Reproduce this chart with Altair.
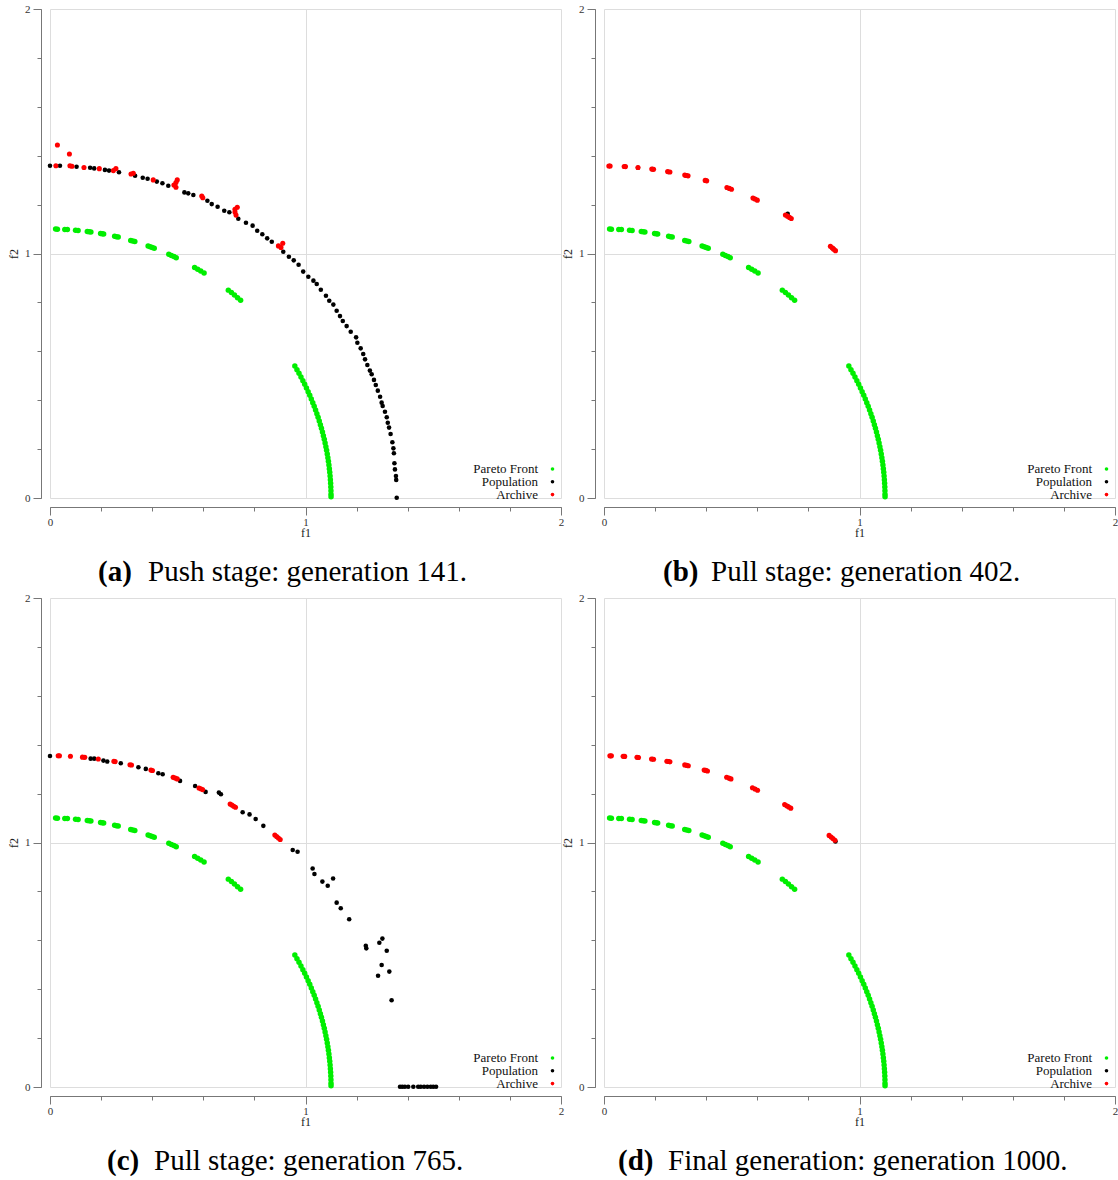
import altair as alt
import pandas as pd

SERIF = "Liberation Serif"
GREEN = "#00ee00"
RED = "#ff0000"
BLACK = "#000000"

# ---- true Pareto front (same in every panel) ----
front_x = [0.022, 0.029, 0.058, 0.068, 0.100, 0.110, 0.146, 0.153, 0.160,
           0.198, 0.204, 0.210, 0.253, 0.260, 0.267, 0.316, 0.324, 0.332,
           0.384, 0.392, 0.400, 0.408, 0.465, 0.475, 0.485, 0.494,
           0.566, 0.578, 0.590, 0.603, 0.698, 0.710, 0.722, 0.734, 0.746,
           0.9583, 0.9666, 0.9746, 0.9823, 0.9898, 0.9969, 1.0037, 1.0103,
           1.0167, 1.0227, 1.0285, 1.0341, 1.0394, 1.0445, 1.0493, 1.0539,
           1.0583, 1.0624, 1.0664, 1.0700, 1.0735, 1.0767, 1.0798, 1.0826,
           1.0852, 1.0876, 1.0897, 1.0917, 1.0934, 1.0950, 1.0963, 1.0974,
           1.0984, 1.0991, 1.0996, 1.0999, 1.1000]
front_y = [1.0998, 1.0996, 1.0985, 1.0979, 1.0955, 1.0945, 1.0903, 1.0893, 1.0883,
           1.0820, 1.0809, 1.0798, 1.0705, 1.0688, 1.0671, 1.0536, 1.0512, 1.0487,
           1.0308, 1.0278, 1.0247, 1.0215, 0.9969, 0.9922, 0.9873, 0.9828,
           0.9432, 0.9359, 0.9284, 0.9200, 0.8502, 0.8402, 0.8299, 0.8193, 0.8084,
           0.540, 0.525, 0.510, 0.495, 0.480, 0.465, 0.450, 0.435,
           0.420, 0.405, 0.390, 0.375, 0.360, 0.345, 0.330, 0.315,
           0.300, 0.285, 0.270, 0.255, 0.240, 0.225, 0.210, 0.195,
           0.180, 0.165, 0.150, 0.135, 0.120, 0.105, 0.090, 0.075,
           0.060, 0.045, 0.030, 0.015, 0.005]

# ---- generation 141 (push stage) ----
pop141_x = [0.000, 0.039, 0.104, 0.157, 0.173, 0.215, 0.231, 0.270, 0.333, 0.363,
            0.382, 0.418, 0.440, 0.463, 0.526, 0.541, 0.561, 0.616, 0.633, 0.656,
            0.682, 0.702, 0.737, 0.767, 0.793, 0.811, 0.831, 0.850, 0.868, 0.913,
            0.935, 0.954, 0.973, 0.991, 1.011, 1.031, 1.044, 1.060, 1.080, 1.093,
            1.109, 1.122, 1.135, 1.146, 1.161, 1.177, 1.198, 1.203, 1.216, 1.226,
            1.233, 1.242, 1.252, 1.259, 1.268, 1.275, 1.283, 1.292, 1.298, 1.302,
            1.311, 1.318, 1.322, 1.327, 1.333, 1.340, 1.344, 1.346, 1.348, 1.350,
            1.354, 1.355, 1.357]
pop141_y = [1.359, 1.359, 1.355, 1.351, 1.348, 1.342, 1.339, 1.332, 1.318, 1.310,
            1.306, 1.294, 1.287, 1.277, 1.250, 1.246, 1.239, 1.216, 1.202, 1.191,
            1.175, 1.169, 1.142, 1.126, 1.114, 1.093, 1.079, 1.062, 1.048, 1.007,
            0.987, 0.972, 0.954, 0.926, 0.905, 0.889, 0.875, 0.852, 0.827, 0.807,
            0.791, 0.766, 0.744, 0.724, 0.703, 0.680, 0.657, 0.635, 0.612, 0.589,
            0.567, 0.544, 0.521, 0.506, 0.483, 0.462, 0.439, 0.414, 0.390, 0.376,
            0.353, 0.330, 0.308, 0.288, 0.262, 0.228, 0.203, 0.183, 0.142, 0.117,
            0.090, 0.074, 0.001]
arc141_x = [0.029, 0.076, 0.023, 0.078, 0.086, 0.133, 0.193, 0.248, 0.258, 0.317,
            0.326, 0.404, 0.485, 0.493, 0.498, 0.493, 0.594, 0.598, 0.724, 0.733,
            0.728, 0.724, 0.894, 0.911, 0.904]
arc141_y = [1.444, 1.407, 1.359, 1.359, 1.357, 1.352, 1.347, 1.339, 1.347, 1.325,
            1.328, 1.301, 1.280, 1.271, 1.301, 1.290, 1.235, 1.228, 1.181, 1.189,
            1.157, 1.170, 1.031, 1.042, 1.025]

# ---- generation 402 (pull stage) ----
pop402_x = [0.022, 0.082, 0.133, 0.190, 0.253, 0.322, 0.399, 0.490, 0.591, 0.719, 0.895]
pop402_y = [1.358, 1.355, 1.351, 1.345, 1.333, 1.319, 1.298, 1.266, 1.223, 1.162, 1.021]
arc402_x = [0.019, 0.024, 0.079, 0.084, 0.133, 0.187, 0.194, 0.249, 0.258,
            0.316, 0.322, 0.329, 0.396, 0.402, 0.481, 0.490, 0.499,
            0.583, 0.591, 0.600, 0.710, 0.718, 0.726, 0.733,
            0.886, 0.893, 0.899, 0.906]
arc402_y = [1.3579, 1.3578, 1.3557, 1.3554, 1.3515, 1.3451, 1.3441, 1.3350, 1.3333,
            1.3207, 1.3193, 1.3176, 1.2990, 1.2972, 1.2700, 1.2665, 1.2630,
            1.2265, 1.2227, 1.2183, 1.1576, 1.1527, 1.1477, 1.1432,
            1.0292, 1.0231, 1.0178, 1.0116]

# ---- generation 765 (pull stage) ----
pop765_x = [0.000, 0.159, 0.173, 0.209, 0.224, 0.277, 0.346, 0.375, 0.424, 0.441,
            0.509, 0.568, 0.609, 0.661, 0.669, 0.754, 0.781, 0.805, 0.835, 0.950,
            0.969, 1.028, 1.035, 1.066, 1.087, 1.108, 1.122, 1.138, 1.171, 1.236,
            1.238, 1.289, 1.301, 1.318, 1.298, 1.284, 1.328, 1.337,
            1.370, 1.379, 1.389, 1.402, 1.422, 1.441, 1.451, 1.464, 1.477, 1.490,
            1.500, 1.511]
pop765_y = [1.354, 1.343, 1.343, 1.335, 1.331, 1.324, 1.308, 1.301, 1.283, 1.279,
            1.252, 1.231, 1.207, 1.204, 1.197, 1.124, 1.115, 1.096, 1.068, 0.969,
            0.962, 0.894, 0.871, 0.840, 0.823, 0.853, 0.754, 0.731, 0.686, 0.578,
            0.567, 0.590, 0.607, 0.557, 0.499, 0.455, 0.472, 0.355,
            0.001, 0.001, 0.001, 0.001, 0.001, 0.001, 0.001, 0.001, 0.001, 0.001,
            0.001, 0.001]
arc765_x = [0.032, 0.037, 0.080, 0.127, 0.136, 0.189, 0.250, 0.255, 0.313, 0.319,
            0.395, 0.401, 0.482, 0.490, 0.498, 0.583, 0.590, 0.597,
            0.705, 0.712, 0.719, 0.726, 0.880, 0.887, 0.894, 0.901]
arc765_y = [1.3546, 1.3545, 1.3526, 1.3490, 1.3482, 1.3418, 1.3317, 1.3308, 1.3183, 1.3169,
            1.2961, 1.2943, 1.2664, 1.2633, 1.2602, 1.2232, 1.2198, 1.2164,
            1.1571, 1.1529, 1.1485, 1.1441, 1.0303, 1.0243, 1.0182, 1.0120]

# ---- generation 1000 (final) ----
pop1000_x = [0.026, 0.078, 0.132, 0.190, 0.252, 0.323, 0.398, 0.489, 0.591, 0.719, 0.906]
pop1000_y = [1.354, 1.352, 1.348, 1.341, 1.331, 1.316, 1.295, 1.263, 1.219, 1.148, 1.004]
arc1000_x = [0.023, 0.029, 0.075, 0.081, 0.129, 0.135, 0.186, 0.194,
             0.246, 0.252, 0.258, 0.316, 0.323, 0.330, 0.392, 0.398, 0.405,
             0.480, 0.489, 0.497, 0.581, 0.591, 0.601,
             0.707, 0.715, 0.723, 0.731, 0.881, 0.889, 0.896, 0.904]
arc1000_y = [1.3544, 1.3543, 1.3525, 1.3522, 1.3485, 1.3479, 1.3418, 1.3407,
             1.3321, 1.3310, 1.3298, 1.3173, 1.3156, 1.3138, 1.2967, 1.2948, 1.2927,
             1.2667, 1.2633, 1.2602, 1.2237, 1.2189, 1.2140,
             1.1555, 1.1506, 1.1455, 1.1405, 1.0290, 1.0221, 1.0160, 1.0089]

legend_labels = ["Pareto Front", "Population", "Archive"]
legend_colors = [GREEN, BLACK, RED]

caption_tags = ["(a)", "(b)", "(c)", "(d)"]
caption_texts = ["Push stage: generation 141.", "Pull stage: generation 402.",
                 "Pull stage: generation 765.", "Final generation: generation 1000."]

W, H = 511, 489
SCALE = alt.Scale(domain=[0, 2], nice=False, zero=False)
TICKS = [0, 0.2, 0.4, 0.6, 0.8, 1, 1.2, 1.4, 1.6, 1.8, 2]
AXIS_GREY = "#777777"
IS_INT = "datum.value % 1 == 0"


def major_axis(orient, title):
    # long ticks, labels and grid lines only at the whole numbers
    return alt.Axis(
        orient=orient, values=TICKS, title=title, grid=True, offset=9, tickSize=8,
        labelExpr=f"{IS_INT} ? format(datum.value, 'd') : ''",
        gridOpacity={"condition": {"test": IS_INT, "value": 1}, "value": 0},
        tickOpacity={"condition": {"test": IS_INT, "value": 1}, "value": 0},
        labelPadding=3 if orient == "left" else 1,
        titlePadding=4 if orient == "left" else 0,
        labelFlush=False, labelOverlap=False)


def minor_axis(orient):
    return alt.Axis(orient=orient, values=TICKS, labels=False, domain=False,
                    grid=False, title=None, offset=9, tickSize=4)


def xy(xs, ys):
    return pd.DataFrame({"f1": xs, "f2": ys})


def panel(pop_x, pop_y, arc_x, arc_y, tag, text, tag_x, text_x):
    front = alt.Chart(xy(front_x, front_y)).mark_circle(
        size=30, color=GREEN, opacity=1).encode(
        x=alt.X("f1:Q", scale=SCALE, axis=major_axis("bottom", "f1")),
        y=alt.Y("f2:Q", scale=SCALE, axis=major_axis("left", "f2")))
    pop = alt.Chart(xy(pop_x, pop_y)).mark_circle(
        size=21, color=BLACK, opacity=1).encode(
        x=alt.X("f1:Q", scale=SCALE, axis=minor_axis("bottom")),
        y=alt.Y("f2:Q", scale=SCALE, axis=minor_axis("left")))
    arc = alt.Chart(xy(arc_x, arc_y)).mark_circle(
        size=26, color=RED, opacity=1).encode(
        x=alt.X("f1:Q", scale=SCALE, axis=None),
        y=alt.Y("f2:Q", scale=SCALE, axis=None))

    layers = [front, pop, arc]
    one = pd.DataFrame({"k": [0]})
    for i, (lab, col) in enumerate(zip(legend_labels, legend_colors)):
        ypos = 460 + 12.8 * i
        layers.append(alt.Chart(one).mark_text(
            text=lab, align="right", baseline="middle", font=SERIF, fontSize=13,
            color="#111111").encode(x=alt.value(488), y=alt.value(ypos)))
        layers.append(alt.Chart(one).mark_point(
            filled=True, shape="circle", size=13, color=col, opacity=1).encode(
            x=alt.value(502.5), y=alt.value(ypos)))

    layers.append(alt.Chart(one).mark_text(
        text=tag, align="left", baseline="middle", font=SERIF, fontSize=29,
        fontWeight="bold", color="#000000").encode(x=alt.value(tag_x), y=alt.value(563)))
    layers.append(alt.Chart(one).mark_text(
        text=text, align="left", baseline="middle", font=SERIF, fontSize=29,
        color="#000000").encode(x=alt.value(text_x), y=alt.value(563)))

    return alt.layer(*layers).resolve_axis(x="independent", y="independent").properties(
        width=W, height=H)


panels = [
    panel(pop141_x, pop141_y, arc141_x, arc141_y, caption_tags[0], caption_texts[0], 48, 98),
    panel(pop402_x, pop402_y, arc402_x, arc402_y, caption_tags[1], caption_texts[1], 59, 107),
    panel(pop765_x, pop765_y, arc765_x, arc765_y, caption_tags[2], caption_texts[2], 57, 104),
    panel(pop1000_x, pop1000_y, arc1000_x, arc1000_y, caption_tags[3], caption_texts[3], 14, 64),
]

chart = alt.concat(
    *panels, columns=2, spacing=alt.RowColnumber(row=100, column=43), bounds="flush"
).properties(
    padding={"left": 7, "top": 3, "right": 0, "bottom": 0},
    background="white"
).configure_view(stroke=None).configure_axis(
    domainColor=AXIS_GREY, tickColor=AXIS_GREY, labelColor="#333333",
    titleColor="#222222", labelFont=SERIF, titleFont=SERIF, labelFontSize=11,
    titleFontSize=12, titleFontWeight="normal", gridColor="#dddddd", gridWidth=1,
    domainWidth=1, tickWidth=1
)

chart.save("out.html", embed_options={"renderer": "svg", "actions": False})
